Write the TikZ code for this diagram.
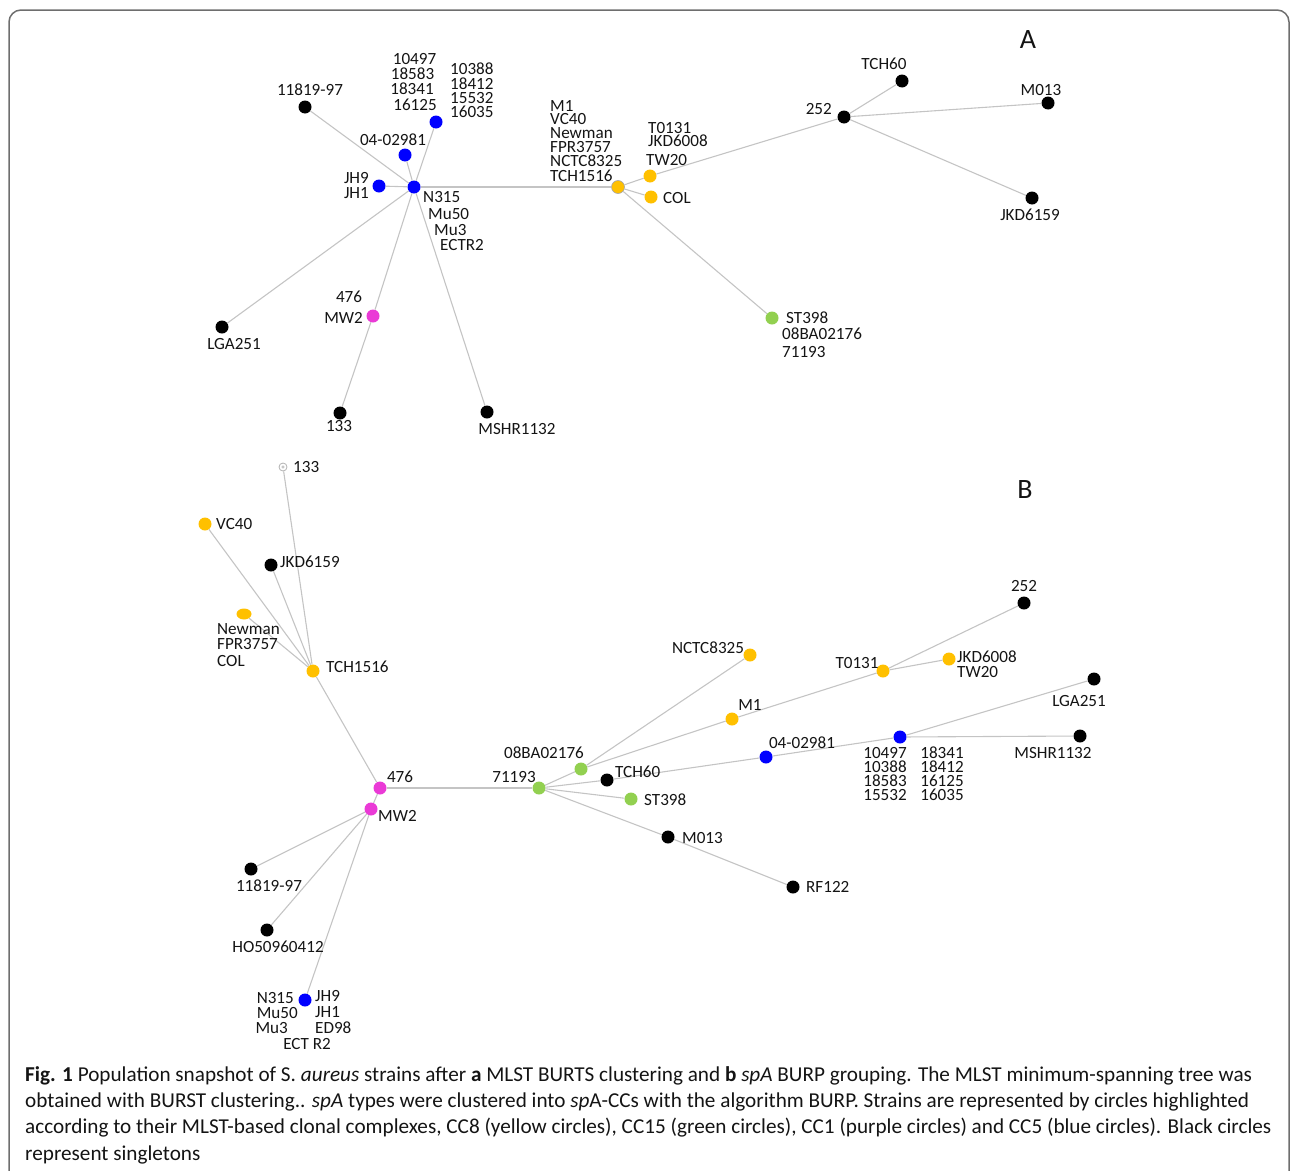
\documentclass[tikz,border=0pt]{standalone}
\usepackage{fontspec}
\usetikzlibrary{shapes.geometric}
\setmainfont{Carlito}
\definecolor{cyel}{RGB}{255,192,0}
\definecolor{cblu}{RGB}{0,0,255}
\definecolor{cmag}{RGB}{234,58,214}
\definecolor{cgrn}{RGB}{146,208,80}
\definecolor{cedge}{RGB}{196,196,196}
\definecolor{ctext}{RGB}{20,20,20}
\definecolor{cframe}{RGB}{110,110,110}
\begin{document}
\begin{tikzpicture}[x=1pt,y=-1pt,
  dot/.style={circle,inner sep=0pt,minimum size=13pt},
  yel/.style={dot,fill=cyel},
  blu/.style={dot,fill=cblu},
  mag/.style={dot,fill=cmag},
  grn/.style={dot,fill=cgrn},
  blk/.style={dot,fill=black},
  lab/.style={inner sep=0pt,text=ctext,text height=10.5pt,text depth=0pt,font=\fontsize{17.1}{18}\selectfont},
  captext/.style={inner sep=0pt,anchor=west,text=ctext,font=\fontsize{21.2}{24}\selectfont},
  edge/.style={draw=cedge,line width=1.1pt}]
\useasboundingbox (0,0) rectangle (1290,1170);
\clip (0,0) rectangle (1290,1170);
\draw[cframe,line width=1.5pt,rounded corners=12pt] (9,10) rectangle (1289,1200);

% ---------------- Panel A ----------------
\node[lab,font=\fontsize{28}{30}\selectfont,text height=19pt] (alabA) at (1028,39) {A};
\node[blu] (aN315) at (414,187) {};
\node[blk] (a11819) at (305,107) {};
\node[blu] (a0402) at (405,155) {};
\node[blu] (a10497) at (436,122) {};
\node[blu] (aJH9) at (379,186) {};
\node[blk] (aLGA) at (222,327) {};
\node[mag] (aMW2) at (373,316) {};
\node[blk] (a133) at (340,413) {};
\node[blk] (aMSHR) at (487,412) {};
\node[yel,draw=gray!70,line width=0.6pt] (aTCH1516) at (618,187) {};
\node[yel] (aT0131) at (650,176) {};
\node[yel] (aCOL) at (651,197) {};
\node[grn] (aST398) at (772,318) {};
\node[blk] (a252) at (844,117) {};
\node[blk] (aTCH60) at (902,81) {};
\node[blk] (aM013) at (1048,103) {};
\node[blk] (aJKD6159) at (1032,198) {};

\draw[edge] (aN315) -- (a11819);
\draw[edge] (aN315) -- (a0402);
\draw[edge] (aN315) -- (a10497);
\draw[edge] (aN315) -- (aJH9);
\draw[edge] (aN315) -- (aLGA);
\draw[edge] (aN315) -- (aMW2);
\draw[edge] (aN315) -- (aMSHR);
\draw[edge] (aN315) -- (aTCH1516);
\draw[edge] (aMW2) -- (a133);
\draw[edge] (aTCH1516) -- (aT0131);
\draw[edge] (aTCH1516) -- (aCOL);
\draw[edge] (aTCH1516) -- (aST398);
\draw[edge] (aT0131) -- (a252);
\draw[edge] (a252) -- (aTCH60);
\draw[edge] (a252) -- (aM013);
\draw[edge] (a252) -- (aJKD6159);

\node[lab] (la11819) at (310,90) {11819-97};
\node[lab] (la0402) at (393,140) {04-02981};
\node[lab] (la10497) at (414.5,59) {10497};
\node[lab] (la18583) at (412.5,74) {18583};
\node[lab] (la18341) at (412,89) {18341};
\node[lab] (la16125) at (415,105) {16125};
\node[lab,anchor=west] (la10388) at (450,69) {10388};
\node[lab,anchor=west] (la18412) at (450,84) {18412};
\node[lab,anchor=west] (la15532) at (450,98) {15532};
\node[lab,anchor=west] (la16035) at (450,112) {16035};
\node[lab,anchor=east] (laJH9) at (369,178) {JH9};
\node[lab,anchor=east] (laJH1) at (369,193) {JH1};
\node[lab,anchor=west] (laN315) at (423,197) {N315};
\node[lab,anchor=west] (laMu50) at (428,214) {Mu50};
\node[lab,anchor=west] (laMu3) at (434,230) {Mu3};
\node[lab,anchor=west] (laECTR2) at (440,245) {ECTR2};
\node[lab] (laLGA) at (234,344) {LGA251};
\node[lab] (la476) at (349,297) {476};
\node[lab,anchor=east] (laMW2) at (363,318) {MW2};
\node[lab] (la133) at (339,426) {133};
\node[lab] (laMSHR) at (517,429) {MSHR1132};
\node[lab,anchor=west] (laM1) at (550,106) {M1};
\node[lab,anchor=west] (laVC40) at (550,119) {VC40};
\node[lab,anchor=west] (laNewman) at (550,133) {Newman};
\node[lab,anchor=west] (laFPR) at (550,147) {FPR3757};
\node[lab,anchor=west] (laNCTC) at (550,161) {NCTC8325};
\node[lab,anchor=west] (laTCH1516) at (550,176) {TCH1516};
\node[lab,anchor=west] (laT0131) at (648,128) {T0131};
\node[lab,anchor=west] (laJKD6008) at (648,141) {JKD6008};
\node[lab,anchor=west] (laTW20) at (646,160) {TW20};
\node[lab,anchor=west] (laCOL) at (663,198) {COL};
\node[lab,anchor=west] (laST398) at (786,318) {ST398};
\node[lab,anchor=west] (la08BA) at (782,334) {08BA02176};
\node[lab,anchor=west] (la71193) at (782,352) {71193};
\node[lab,anchor=east] (la252) at (832,109) {252};
\node[lab] (laTCH60) at (884,64) {TCH60};
\node[lab] (laM013) at (1041,90) {M013};
\node[lab] (laJKD6159) at (1030,215) {JKD6159};

% ---------------- Panel B ----------------
\node[lab,font=\fontsize{28}{30}\selectfont,text height=19pt] (blabB) at (1025,489) {B};
\node[circle,inner sep=0pt,minimum size=8pt,draw=gray!60,fill=white,line width=0.8pt] (b133) at (283,467) {};
\node[circle,inner sep=0pt,minimum size=2.5pt,draw=gray!60,line width=0.5pt] (b133in) at (283,467) {};
\node[yel] (bVC40) at (205,524) {};
\node[blk] (bJKD6159) at (271,565) {};
\node[ellipse,inner sep=0pt,minimum width=15pt,minimum height=11pt,fill=cyel] (bNewman) at (244,614) {};
\node[yel] (bTCH1516) at (313,671) {};
\node[mag] (b476) at (380,788) {};
\node[mag] (bMW2) at (371,809) {};
\node[blk] (b11819) at (251,869) {};
\node[blk] (bHO) at (267,930) {};
\node[blu] (bN315) at (305,1000) {};
\node[grn] (b71193) at (539,788) {};
\node[grn] (b08BA) at (581,769) {};
\node[blk] (bTCH60) at (607,780) {};
\node[grn] (bST398) at (631,799) {};
\node[blk] (bM013) at (668,837) {};
\node[blk] (bRF122) at (793,887) {};
\node[yel] (bNCTC) at (750,655) {};
\node[yel] (bM1) at (732,719) {};
\node[yel] (bT0131) at (883,671) {};
\node[yel] (bJKD6008) at (949,659) {};
\node[blk] (b252) at (1024,603) {};
\node[blu] (b0402) at (766,757) {};
\node[blu] (b10497) at (900,737) {};
\node[blk] (bLGA) at (1094,679) {};
\node[blk] (bMSHR) at (1080,736) {};

\draw[edge] (b133) -- (bTCH1516);
\draw[edge] (bVC40) -- (bTCH1516);
\draw[edge] (bJKD6159) -- (bTCH1516);
\draw[edge] (bNewman) -- (bTCH1516);
\draw[edge] (bTCH1516) -- (b476);
\draw[edge] (b476) -- (bMW2);
\draw[edge] (b476) -- (b71193);
\draw[edge] (bMW2) -- (b11819);
\draw[edge] (bMW2) -- (bHO);
\draw[edge] (bMW2) -- (bN315);
\draw[edge] (b71193) -- (b08BA);
\draw[edge] (b71193) -- (bTCH60);
\draw[edge] (b71193) -- (bST398);
\draw[edge] (b71193) -- (bM013);
\draw[edge] (bM013) -- (bRF122);
\draw[edge] (b08BA) -- (bNCTC);
\draw[edge] (b08BA) -- (bM1);
\draw[edge] (bM1) -- (bT0131);
\draw[edge] (bT0131) -- (b252);
\draw[edge] (bT0131) -- (bJKD6008);
\draw[edge] (bTCH60) -- (b0402);
\draw[edge] (b0402) -- (b10497);
\draw[edge] (b10497) -- (bLGA);
\draw[edge] (b10497) -- (bMSHR);

\node[lab,anchor=west] (lb133) at (293,467) {133};
\node[lab,anchor=west] (lbVC40) at (216,524) {VC40};
\node[lab,anchor=west] (lbJKD6159) at (280,562) {JKD6159};
\node[lab,anchor=west] (lbNewman) at (217,629) {Newman};
\node[lab,anchor=west] (lbFPR) at (217,644) {FPR3757};
\node[lab,anchor=west] (lbCOL) at (217,661) {COL};
\node[lab,anchor=west] (lbTCH1516) at (326,667) {TCH1516};
\node[lab] (lb476) at (400,777) {476};
\node[lab,anchor=west] (lbMW2) at (378,816) {MW2};
\node[lab] (lb11819) at (269,886) {11819-97};
\node[lab] (lbHO) at (278,947) {HO50960412};
\node[lab,anchor=east] (lbN315) at (294,998) {N315};
\node[lab,anchor=east] (lbMu50) at (298,1013) {Mu50};
\node[lab,anchor=east] (lbMu3) at (288,1028) {Mu3};
\node[lab,anchor=west] (lbJH9) at (315,996) {JH9};
\node[lab,anchor=west] (lbJH1) at (315,1012) {JH1};
\node[lab,anchor=west] (lbED98) at (315,1028) {ED98};
\node[lab] (lbECT) at (307,1044) {ECT R2};
\node[lab] (lb71193) at (514,777) {71193};
\node[lab] (lb08BA) at (544,753) {08BA02176};
\node[lab,anchor=west] (lbTCH60) at (615,772) {TCH60};
\node[lab,anchor=west] (lbST398) at (644,800) {ST398};
\node[lab,anchor=west] (lbM013) at (682,838) {M013};
\node[lab,anchor=west] (lbRF122) at (806,887) {RF122};
\node[lab] (lbNCTC) at (708,648) {NCTC8325};
\node[lab] (lbM1) at (750,705) {M1};
\node[lab] (lbT0131) at (857,663) {T0131};
\node[lab,anchor=west] (lbJKD6008) at (957,657) {JKD6008};
\node[lab,anchor=west] (lbTW20) at (957,672) {TW20};
\node[lab] (lb252) at (1024,586) {252};
\node[lab] (lb0402) at (802,743) {04-02981};
\node[lab] (lbLGA) at (1079,701) {LGA251};
\node[lab] (lbMSHR) at (1053,753) {MSHR1132};
\node[lab] (lb10497) at (885,753) {10497};
\node[lab] (lb10388) at (885,767) {10388};
\node[lab] (lb18583) at (885,781) {18583};
\node[lab] (lb15532) at (885,795) {15532};
\node[lab] (lb18341) at (942,753) {18341};
\node[lab] (lb18412) at (942,767) {18412};
\node[lab] (lb16125) at (942,781) {16125};
\node[lab] (lb16035) at (942,795) {16035};

% ---------------- Caption ----------------
\node[captext] (cap1) at (25,1076) {\textbf{Fig. 1} Population snapshot of S. \textit{aureus} strains after \textbf{a} MLST BURTS clustering and \textbf{b} \textit{spA} BURP grouping. The MLST minimum-spanning tree was};
\node[captext] (cap2) at (25,1102) {obtained with BURST clustering.. \textit{spA} types were clustered into \textit{sp}A-CCs with the algorithm BURP. Strains are represented by circles highlighted};
\node[captext] (cap3) at (25,1128) {according to their MLST-based clonal complexes, CC8 (yellow circles), CC15 (green circles), CC1 (purple circles) and CC5 (blue circles). Black circles};
\node[captext] (cap4) at (25,1155) {represent singletons};
\end{tikzpicture}
\end{document}
